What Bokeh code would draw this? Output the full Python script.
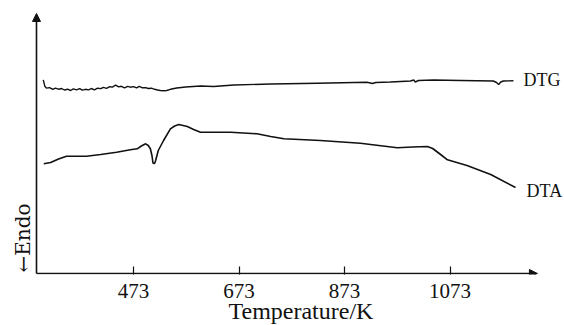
import math
from bokeh.plotting import figure
from bokeh.models import Range1d, FixedTicker, Label, Arrow, NormalHead, Title
from bokeh.embed import file_html
from bokeh.resources import INLINE

# ---- data (temperature in K, signal in arbitrary units) ----
dtg_T = [302, 305, 308, 314, 320, 325, 331, 337, 342, 348, 354, 359, 365, 371, 376, 382,
         388, 393, 399, 405, 411, 416, 422, 428, 433, 439, 445, 450, 456, 462, 467, 473,
         479, 484, 490, 496, 501, 507, 513, 519, 524, 530, 536, 543, 555, 572, 600, 625,
         663, 733, 822, 915, 920, 926, 932, 960, 998, 1004, 1007, 1013, 1042, 1093, 1155,
         1161, 1165, 1169, 1174, 1193]
dtg_y = [193.7, 187.3, 185.4, 185.9, 184.1, 185.4, 184.3, 185.0, 183.5, 184.3, 183.0, 184.6,
         183.7, 184.9, 183.3, 184.2, 183.6, 185.0, 183.6, 185.3, 184.9, 186.2, 185.2, 186.8,
         186.4, 188.3, 186.6, 187.2, 185.6, 187.1, 186.3, 186.9, 185.6, 187.1, 185.7, 185.9,
         185.0, 185.3, 184.2, 183.5, 183.0, 182.8, 183.0, 184.2, 185.5, 186.5, 187.5, 187.0,
         188.5, 189.5, 190.3, 191.2, 190.8, 190, 191, 191.5, 192.5, 193.5, 191.5, 193,
         193.5, 193, 192.5, 191, 189, 191.5, 192.5, 192.7]

dta_T = [303, 316, 331, 346, 384, 411, 441, 467, 480, 488, 496, 501, 505, 508, 510, 513,
         515, 520, 530, 543, 551, 559, 575, 587, 600, 657, 707, 733, 758, 827, 903, 973,
         1002, 1030, 1040, 1055, 1068, 1105, 1150, 1197]
dta_y = [109.7, 111, 114.5, 117.3, 117.3, 119, 121.3, 123.7, 124.7, 127.5, 129.7, 128,
         124.7, 118, 110.3, 110, 113, 123, 133, 144.7, 147.5, 149, 147, 144, 141.3, 141.3,
         139.7, 137, 134.7, 133, 130.3, 125.7, 126.5, 127, 125, 119, 113.7, 108, 99, 86]

x_ticks = [473, 673, 873, 1073]
series_names = ["DTG", "DTA"]
x_label = "Temperature/K"
y_label = "\u2190Endo"

# axis extents (data units)
T_MIN, T_MAX = 289.2, 1238.5
Y_MIN, Y_MAX = 0, 260

FONT = "Liberation Serif"
INK = "#111111"

p = figure(width=564, height=325, output_backend="svg", toolbar_location=None,
           x_range=Range1d(221.0, 1289.8), y_range=Range1d(-1, 273),
           min_border_left=0, min_border_right=0, min_border_top=0,
           min_border_bottom=51)
p.outline_line_color = None
p.grid.visible = False
p.yaxis.visible = False
p.background_fill_color = "white"
p.border_fill_color = "white"

# x axis: ticks and labels from Bokeh, line drawn as glyph
xa = p.xaxis[0]
xa.ticker = FixedTicker(ticks=x_ticks)
xa.axis_line_color = None
xa.major_tick_in = 8
xa.major_tick_out = 0
xa.minor_tick_line_color = None
xa.major_tick_line_color = INK
xa.major_tick_line_width = 1.2
xa.major_label_text_font = FONT
xa.major_label_text_font_size = "21px"
xa.major_label_text_color = INK
xa.major_label_standoff = 9

# x axis title, placed in the panel below the axis
p.add_layout(Title(text=x_label, align="left", offset=228, text_font=FONT,
                   text_font_style="normal", text_font_size="24px", text_color=INK,
                   standoff=-9, vertical_align="bottom"), "below")

# axis lines with arrow heads
p.segment(x0=[T_MIN, T_MIN], y0=[Y_MIN, Y_MIN], x1=[T_MAX - 10, T_MIN], y1=[Y_MIN, Y_MAX - 8],
          line_color=INK, line_width=1.6)
p.add_layout(Arrow(x_start=T_MAX - 20, y_start=Y_MIN, x_end=T_MAX, y_end=Y_MIN, line_alpha=0,
                   end=NormalHead(size=8, fill_color=INK, line_color=INK)))
p.add_layout(Arrow(x_start=T_MIN, y_start=Y_MAX - 20, x_end=T_MIN, y_end=Y_MAX, line_alpha=0,
                   end=NormalHead(size=8, fill_color=INK, line_color=INK)))

# curves
p.line(dtg_T, dtg_y, line_color=INK, line_width=1.4)
p.line(dta_T, dta_y, line_color=INK, line_width=1.6)

# series labels
p.add_layout(Label(x=1212, y=194, text=series_names[0], text_font=FONT,
                   text_font_size="18px", text_color=INK, text_baseline="middle",
                   text_align="left"))
p.add_layout(Label(x=1218, y=83, text=series_names[1], text_font=FONT,
                   text_font_size="18px", text_color=INK, text_baseline="middle",
                   text_align="left"))

# y axis label (rotated, near bottom)
p.add_layout(Label(x=262.7, y=1, text=y_label, text_font="DejaVu Serif", angle=math.pi / 2,
                   text_font_size="20px", text_color=INK, text_baseline="middle",
                   text_align="left"))

open("out.html", "w").write(file_html(p, INLINE))
